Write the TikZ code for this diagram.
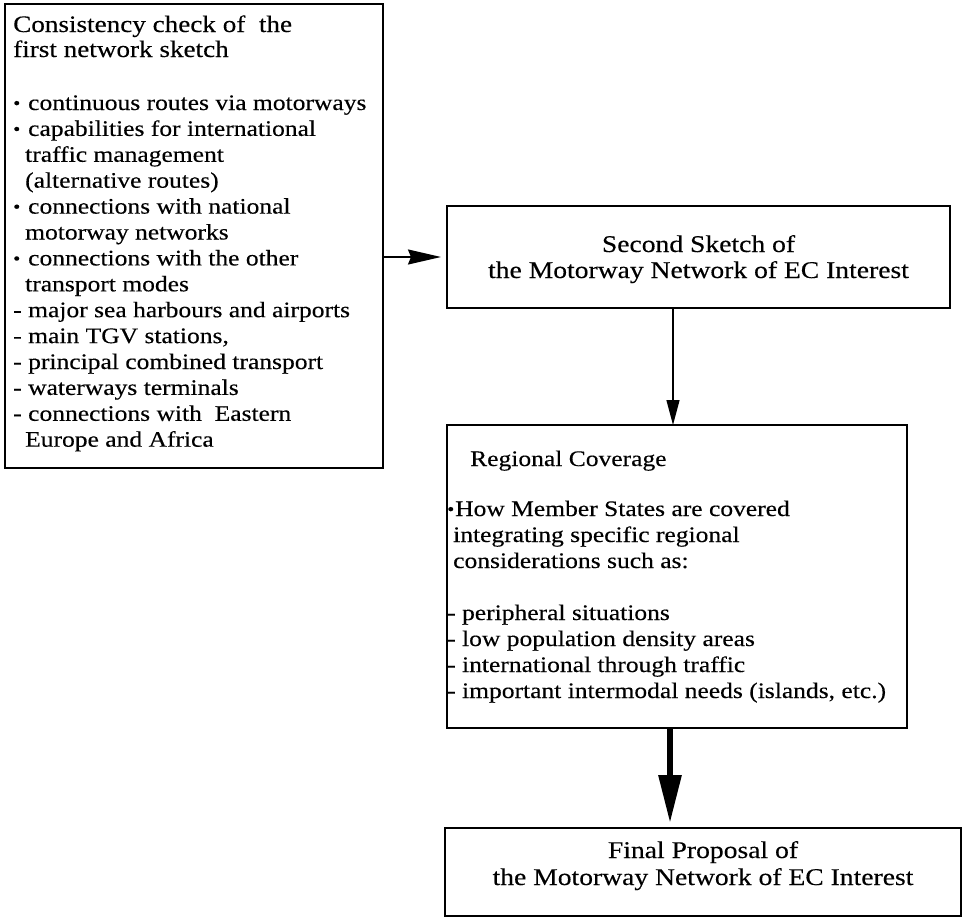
\documentclass[tikz,border=0pt]{standalone}
\usepackage{fontspec}
\setmainfont[FakeStretch=1.15,FakeBold=0.3]{Liberation Serif}
\usetikzlibrary{arrows.meta,calc}
\newcommand{\bul}{\makebox[15pt][l]{\raisebox{1pt}{\scalebox{0.8}{•}}}}
\newcommand{\bulb}{\makebox[8pt][l]{\raisebox{1pt}{\scalebox{0.8}{•}}}}
\newcommand{\dsh}{\makebox[15pt][l]{-}}
\newcommand{\ind}{\hspace*{12pt}}
\tikzset{
  box/.style={draw, line width=1.3pt, inner sep=0pt, outer sep=0pt},
  txt/.style={inner sep=0pt, font=\fontsize{22.2}{26}\selectfont},
  hdr/.style={inner sep=0pt, font=\fontsize{23.6}{25}\selectfont},
  ttl/.style={inner sep=0pt, font=\fontsize{24}{26}\selectfont},
  thinarrow/.style={line width=1.8pt, -{Stealth[length=33pt,width=15pt,inset=3pt]}},
  midarrow/.style={line width=1.3pt, -{Triangle[length=25pt,width=13pt]}},
  thickarrow/.style={line width=6pt, -{Triangle[length=48pt,width=22pt]}}
}
\begin{document}
\begin{tikzpicture}[x=1pt,y=-1pt]
\useasboundingbox (0,0) rectangle (962,918);
% boxes
\node[box, minimum width=378pt, minimum height=464pt] (b1) at (194,236) {};
\node[box, minimum width=503pt, minimum height=102pt] (b2) at (698.5,257) {};
\node[box, minimum width=460pt, minimum height=303pt] (b3) at (677,576.5) {};
\node[box, minimum width=516pt, minimum height=88pt] (b4) at (703,872) {};
% box 1 text
\node[hdr, anchor=base west] (h1) at (13,32) {Consistency check of\ \ the};
\node[hdr, anchor=base west] (h2) at (13,57) {first network sketch};
\foreach \s [count=\i from 0] in {
  {\bul continuous routes via motorways},
  {\bul capabilities for international},
  {\ind traffic management},
  {\ind (alternative routes)},
  {\bul connections with national},
  {\ind motorway networks},
  {\bul connections with the other},
  {\ind transport modes},
  {\dsh major sea harbours and airports},
  {\dsh main TGV stations,},
  {\dsh principal combined transport},
  {\dsh waterways terminals},
  {\dsh connections with\ \ Eastern},
  {\ind Europe and Africa}}
  \node[txt, anchor=base west] (ba\i) at (13,{110+25.9*\i}) {\s};
% box 2 text
\node[ttl, anchor=base] (s1) at (698.5,252) {Second Sketch of};
\node[ttl, anchor=base] (s2) at (698.5,278) {the Motorway Network of EC Interest};
% box 3 text
\node[txt, anchor=base west] (r0) at (470,466) {Regional Coverage};
\node[txt, anchor=base west] (r1) at (447,516) {\bulb How Member States are covered};
\node[txt, anchor=base west] (r2) at (453,542) {integrating specific regional};
\node[txt, anchor=base west] (r3) at (453,568) {considerations such as:};
\node[txt, anchor=base west] (r4) at (447,620) {- peripheral situations};
\node[txt, anchor=base west] (r5) at (447,646) {- low population density areas};
\node[txt, anchor=base west] (r6) at (447,672) {- international through traffic};
\node[txt, anchor=base west] (r7) at (447,698) {- important intermodal needs (islands, etc.)};
% box 4 text
\node[ttl, anchor=base] (f1) at (703,858) {Final Proposal of};
\node[ttl, anchor=base] (f2) at (703,885) {the Motorway Network of EC Interest};
% connectors
\draw[thinarrow, shorten >=6pt] (b1.east |- b2.west) -- (b2.west);
\draw[midarrow] ([xshift=-25.5pt]b2.south) -- ([xshift=-25.5pt]b2.south |- b3.north);
\draw[thickarrow, shorten >=5pt] ([xshift=-7pt]b3.south) -- ([xshift=-7pt]b3.south |- b4.north);
\end{tikzpicture}
\end{document}
